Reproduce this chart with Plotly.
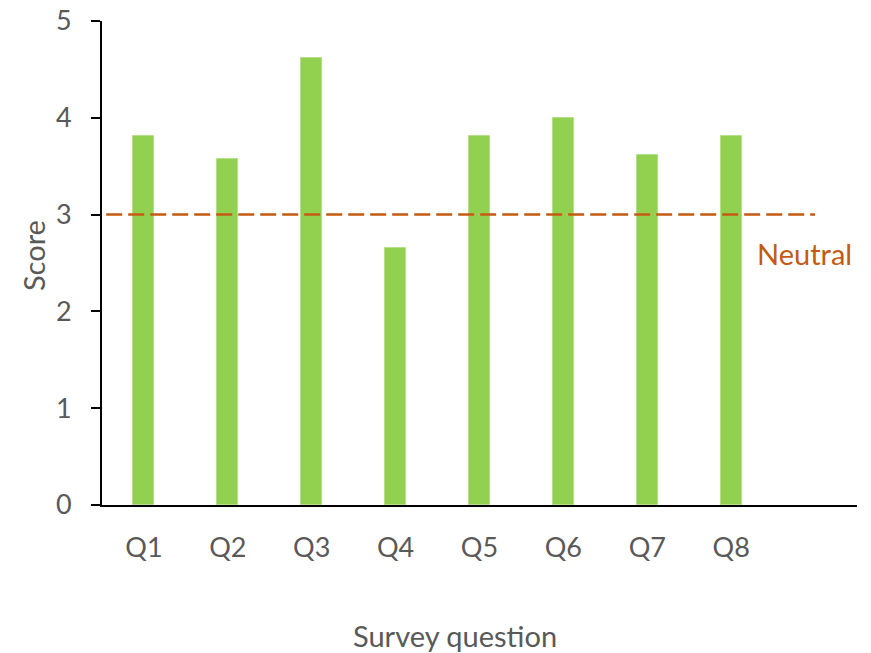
import plotly.graph_objects as go

questions = ["Q1", "Q2", "Q3", "Q4", "Q5", "Q6", "Q7", "Q8"]
scores = [3.81, 3.57, 4.62, 2.66, 3.81, 4.00, 3.62, 3.81]
neutral_value = 3
neutral_label = "Neutral"
y_ticks = [0, 1, 2, 3, 4, 5]

FONT = "Lato"
GRAY = "#595959"
ORANGE = "#C55A11"
GREEN = "#92D050"

xpos = list(range(len(questions)))

fig = go.Figure()
fig.add_trace(go.Bar(
    x=xpos, y=scores, width=0.25,
    marker=dict(color=GREEN, line=dict(color="#B5E08A", width=1)),
    showlegend=False, hoverinfo="skip",
))
fig.add_trace(go.Scatter(
    x=[-0.45, len(questions)], y=[neutral_value, neutral_value],
    mode="lines", line=dict(color=ORANGE, width=2.5, dash="16px,6px"),
    showlegend=False, hoverinfo="skip",
))
fig.add_annotation(
    x=len(questions) - 0.71, y=neutral_value - 0.4, text=neutral_label,
    xanchor="left", yanchor="middle", showarrow=False,
    font=dict(family=FONT, size=29, color=ORANGE),
)
fig.add_annotation(
    xref="paper", yref="paper", x=-0.091, y=0.515, text="Score",
    textangle=-90, showarrow=False, xanchor="center", yanchor="middle",
    font=dict(family=FONT, size=29, color=GRAY),
)
fig.add_annotation(
    xref="paper", yref="paper", x=0.468, y=-0.27, text="Survey question",
    showarrow=False, xanchor="center", yanchor="middle",
    font=dict(family=FONT, size=29, color=GRAY),
)

fig.update_layout(
    width=871, height=653,
    margin=dict(l=102, r=14, t=21, b=148, autoexpand=False),
    plot_bgcolor="white", paper_bgcolor="white",
    bargap=0,
)
fig.update_xaxes(
    range=[-0.5, len(questions) + 0.5],
    tickvals=xpos, ticktext=questions,
    showgrid=False, zeroline=False, automargin=False,
    showline=True, linecolor="black", linewidth=2,
    ticks="", ticklabelstandoff=18,
    tickfont=dict(family=FONT, size=27, color=GRAY),
)
fig.update_yaxes(
    range=[0, 5], tickvals=y_ticks,
    showgrid=False, zeroline=False, automargin=False,
    showline=True, linecolor="black", linewidth=2,
    ticks="outside", ticklen=9, tickwidth=2, tickcolor="black",
    ticklabelstandoff=14,
    tickfont=dict(family=FONT, size=27, color=GRAY),
)

fig.write_html("out.html")
